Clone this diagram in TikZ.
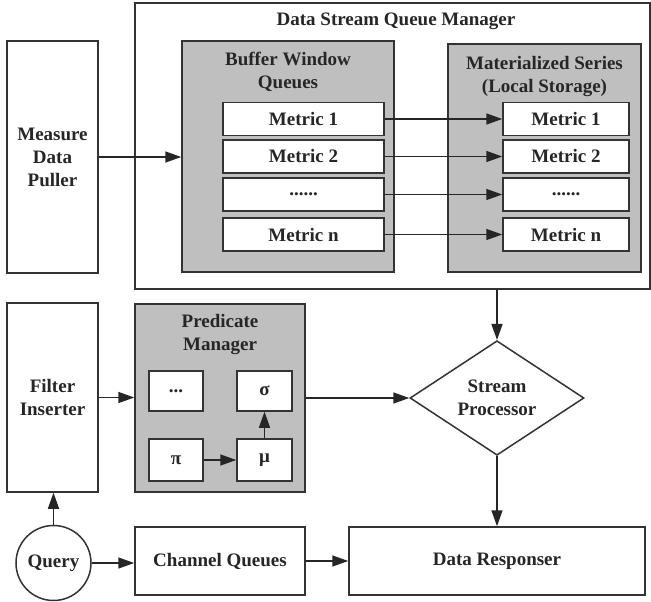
\documentclass[tikz,border=0pt]{standalone}
\usepackage{fontspec}
\setmainfont{Liberation Serif}
\usetikzlibrary{shapes.geometric,arrows.meta}

\tikzset{
  box/.style={draw=black!80, line width=1.5pt, fill=white, inner sep=0pt, align=center, text=black!85},
  grpbox/.style={box, fill=black!25},
  metricbox/.style={box, minimum height=33},
  arr/.style={-{Triangle[length=16pt,width=11pt]}, line width=1.5pt, draw=black!85}
}
\newcommand{\sixdots}{......}

\begin{document}
\begin{tikzpicture}[x=1pt, y=-1pt, font=\fontsize{19}{23}\selectfont\bfseries]
\useasboundingbox (0,0) rectangle (651,602);

% upper part
\node[box, minimum width=91, minimum height=232] (mdp) at (52.5,157) {Measure\\Data\\Puller};
\node[box, minimum width=515, minimum height=286] (dsqm) at (392.5,146) {};
\node[text=black!85] (dsqmtitle) at (396,21) {Data Stream Queue Manager};
\node[grpbox, minimum width=212, minimum height=231] (bwq) at (288,156.5) {};
\node[text=black!85, align=center] (bwqtitle) at (288,72) {Buffer Window\\Queues};
\node[grpbox, minimum width=193, minimum height=228] (ms) at (544.5,158) {};
\node[text=black!85, align=center] (mstitle) at (544.5,77) {Materialized Series\\(Local Storage)};

\foreach \i/\y/\txt in {1/119/{Metric 1}, 2/156.5/{Metric 2}, 3/194.5/{\sixdots}, 4/234.5/{Metric n}}{
  \node[metricbox, minimum width=161] (bm\i) at (303.5,\y) {\txt};
  \node[metricbox, minimum width=126] (sm\i) at (566,\y) {\txt};
  \draw[arr] (bm\i) -- (sm\i);
}
\draw[arr] (mdp) -- (bwq.west |- mdp);

% lower part
\node[box, minimum width=91, minimum height=189] (fi) at (52.5,397.5) {Filter\\Inserter};
\node[grpbox, minimum width=170, minimum height=188] (pm) at (220,398) {};
\node[text=black!85, align=center] (pmtitle) at (220,335) {Predicate\\Manager};
\node[box, minimum width=54, minimum height=40] (etc) at (176,391) {...};
\node[box, minimum width=55, minimum height=40] (sigma) at (264.5,391) {σ};
\node[box, minimum width=54, minimum height=42] (pi) at (176,460) {π};
\node[box, minimum width=55, minimum height=42] (mu) at (264.5,460) {μ};
\node[box, diamond, minimum width=174, minimum height=78] (sp) at (497,398) {Stream\\Processor};
\node[box, circle, minimum size=75] (query) at (53.5,563) {Query};
\node[box, minimum width=170, minimum height=68] (cq) at (220,561) {Channel Queues};
\node[box, minimum width=296, minimum height=68] (dr) at (497,561) {Data Responser};

\draw[arr] (fi) -- (pm.west |- fi);
\draw[arr] (pi) -- (mu);
\draw[arr] (mu) -- (sigma);
\draw[arr] (pm.east |- sp) -- (sp);
\draw[arr] (sp.north |- dsqm.south) -- (sp);
\draw[arr] (sp) -- (dr.north -| sp);
\draw[arr] (query) -- (fi.south -| query);
\draw[arr] (query) -- (cq.west |- query);
\draw[arr] (cq) -- (dr.west |- cq);
\end{tikzpicture}
\end{document}
